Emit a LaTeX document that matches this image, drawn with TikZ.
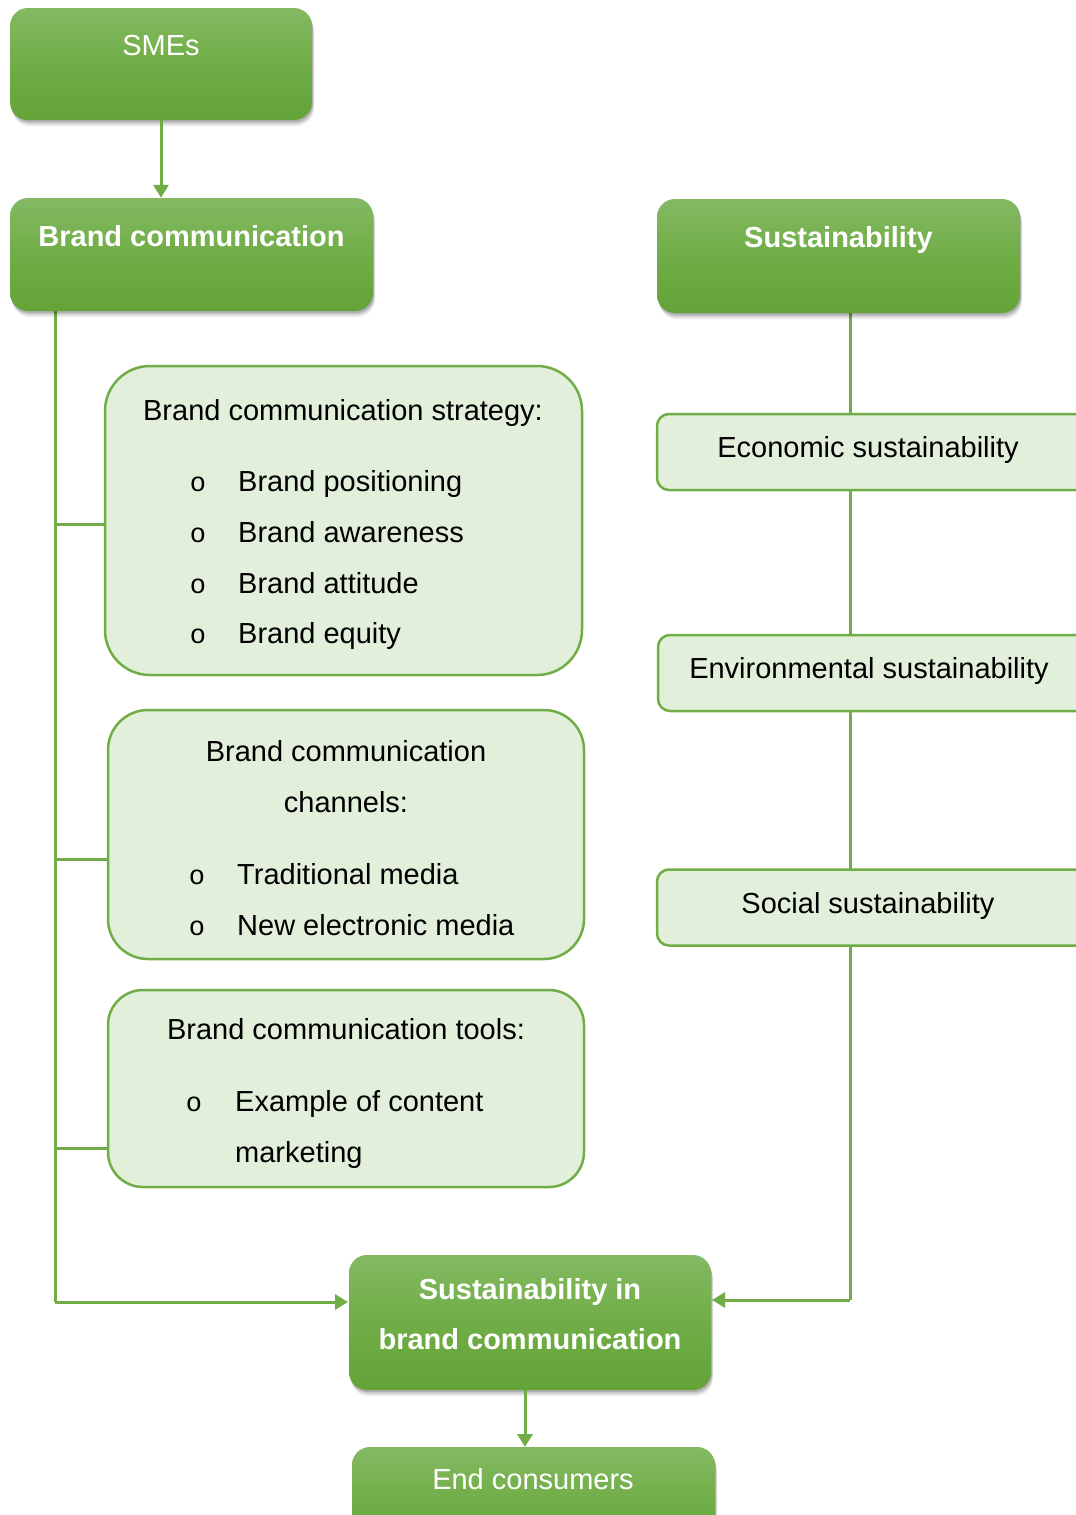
\documentclass[tikz,border=0pt]{standalone}
\usepackage{fontspec}
\setmainfont{Liberation Sans}
\newfontfamily\monofnt{Liberation Mono}
\usetikzlibrary{arrows.meta,shadows}
\definecolor{gdark}{HTML}{63A337}
\definecolor{gmid}{HTML}{70AD47}
\definecolor{glight}{HTML}{84B962}
\definecolor{pale}{HTML}{E2EFDA}
\begin{document}
\begin{tikzpicture}[x=1pt,y=-1pt,
  gbox/.style={rectangle, rounded corners=18pt, top color=glight, bottom color=gdark, middle color=gmid, draw=none,
    drop shadow={shadow xshift=2pt,shadow yshift=-6pt,opacity=0.08,fill=black},
    drop shadow={shadow xshift=1.5pt,shadow yshift=-4pt,opacity=0.12,fill=black},
    drop shadow={shadow xshift=1pt,shadow yshift=-2pt,opacity=0.15,fill=black}},
  pbox/.style={rectangle, fill=pale, draw=gmid, line width=2.5pt},
  conn/.style={draw=gmid, line width=3pt},
  tip/.style={-{Triangle[length=13pt,width=15pt]}},
  wt/.style={text=white, font=\fontsize{29}{35}\selectfont, inner sep=0pt, anchor=base},
  wbt/.style={text=white, font=\fontsize{29}{35}\selectfont\bfseries, inner sep=0pt, anchor=base},
  bt/.style={text=black, font=\fontsize{29}{35}\selectfont, inner sep=0pt, anchor=base},
  blt/.style={text=black, font=\fontsize{29}{35}\selectfont, inner sep=0pt, anchor=base west},
  bul/.style={text=black, font=\monofnt\fontsize{27}{35}\selectfont, inner sep=0pt, anchor=base}
]
\useasboundingbox (0,0) rectangle (1076,1515);

% connectors (drawn first so boxes cover them)
\coordinate (lt) at (55,311);
\coordinate (lb) at (55,1302);
\coordinate (inL) at (348,1302);
\coordinate (rt) at (850,313);
\coordinate (rb) at (850,1300);
\coordinate (inR) at (712,1300);
\coordinate (br1) at (55,524);
\coordinate (br2) at (55,859);
\coordinate (br3) at (55,1148);
\draw[conn] (lt) -- (lb);
\draw[conn,tip] (lb) -- (inL);
\draw[conn] (rt) -- (rb);
\draw[conn,tip] (rb) -- (inR);
\draw[conn] (br1) -- (107,524);
\draw[conn] (br2) -- (109,859);
\draw[conn] (br3) -- (109,1148);

% green boxes
\node[gbox, minimum width=302pt, minimum height=112pt] (smes) at (161,64) {};
\node[wt] (smesT) at (161,55) {SMEs};
\node[gbox, minimum width=363pt, minimum height=113pt] (bc) at (191.5,254.5) {};
\node[wbt] (bcT) at (191.5,246) {Brand communication};
\node[gbox, minimum width=363pt, minimum height=114pt] (sus) at (838.5,256) {};
\node[wbt] (susT) at (838.5,247) {Sustainability};
\node[gbox, minimum width=362pt, minimum height=135pt] (sib) at (530,1322.5) {};
\node[wbt] (sibT1) at (530,1299) {Sustainability in};
\node[wbt] (sibT2) at (530,1349) {brand communication};
\node[gbox, minimum width=363pt, minimum height=110pt] (end) at (533.5,1502) {};
\node[wt] (endT) at (533,1489) {End consumers};

\draw[conn,tip] (smes.south) -- (smes.south |- bc.north);
\draw[conn,tip] (525,1390) coordinate (sibb) -- (525,1447) coordinate (endt);

% pale boxes left
\node[pbox, rounded corners=45pt, minimum width=477pt, minimum height=309pt] (b1) at (343.5,520.5) {};
\node[bt] (b1t) at (343,420) {Brand communication strategy:};
\node[bul] (b1o1) at (198,491) {o};
\node[blt] (b1l1) at (238,491) {Brand positioning};
\node[bul] (b1o2) at (198,542) {o};
\node[blt] (b1l2) at (238,542) {Brand awareness};
\node[bul] (b1o3) at (198,593) {o};
\node[blt] (b1l3) at (238,593) {Brand attitude};
\node[bul] (b1o4) at (198,643) {o};
\node[blt] (b1l4) at (238,643) {Brand equity};

\node[pbox, rounded corners=40pt, minimum width=476pt, minimum height=249pt] (b2) at (346,834.5) {};
\node[bt] (b2t1) at (346,761) {Brand communication};
\node[bt] (b2t2) at (346,812) {channels:};
\node[bul] (b2o1) at (197,884) {o};
\node[blt] (b2l1) at (237,884) {Traditional media};
\node[bul] (b2o2) at (197,935) {o};
\node[blt] (b2l2) at (237,935) {New electronic media};

\node[pbox, rounded corners=35pt, minimum width=476pt, minimum height=197pt] (b3) at (346,1088.5) {};
\node[bt] (b3t) at (346,1039) {Brand communication tools:};
\node[bul] (b3o1) at (194,1111) {o};
\node[blt] (b3l1) at (235,1111) {Example of content};
\node[blt] (b3l2) at (235,1162) {marketing};

% pale boxes right
\node[pbox, rounded corners=12pt, minimum width=440pt, minimum height=76pt] (eco) at (877,452) {};
\node[bt] (ecoT) at (868,457) {Economic sustainability};
\node[pbox, rounded corners=12pt, minimum width=440pt, minimum height=76pt] (env) at (878,673) {};
\node[bt] (envT) at (869,678) {Environmental sustainability};
\node[pbox, rounded corners=12pt, minimum width=440pt, minimum height=76pt] (soc) at (877,907.5) {};
\node[bt] (socT) at (868,913) {Social sustainability};
\end{tikzpicture}
\end{document}
